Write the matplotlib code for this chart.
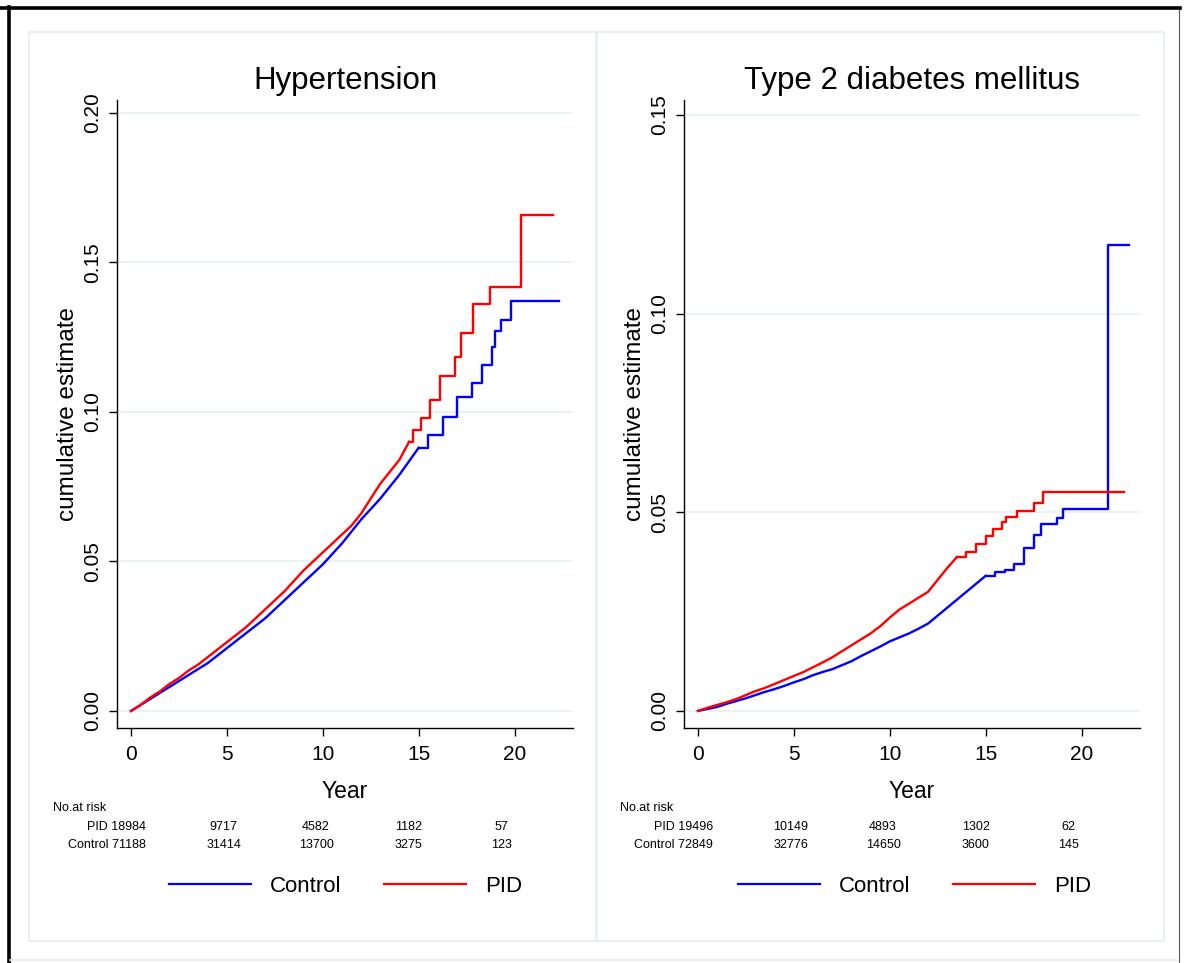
import matplotlib
matplotlib.use("Agg")
import matplotlib.pyplot as plt
from matplotlib.patches import Rectangle
from matplotlib.lines import Line2D

plt.rcParams['font.family'] = ['Liberation Sans', 'DejaVu Sans']

# ---------------- data ----------------
# Hypertension
ht_ctrl_t = [0, .5, 1, 1.5, 2, 2.5, 3, 3.5, 4, 4.5, 5, 5.5, 6, 6.5, 7, 7.5, 8, 8.5, 9, 9.5,
             10, 10.5, 11, 11.5, 12, 12.5, 13, 13.5, 14, 14.5, 15, 15.5, 16.25, 17.0, 17.8,
             18.3, 18.8, 18.96, 19.3, 19.8]
ht_ctrl_v = [0, .002, .004, .006, .008, .010, .012, .014, .016, .0185, .021, .0235, .026, .0285,
             .031, .034, .037, .040, .043, .046, .049, .0525, .056, .060, .064, .0675, .071, .075,
             .079, .0835, .088, .0923, .0984, .105, .1097, .1157, .1218, .127, .1308, .137]
ht_ctrl_end = 22.3

ht_pid_t = [0, .5, 1, 1.5, 2, 2.5, 3, 3.5, 4, 4.5, 5, 5.5, 6, 6.5, 7, 7.5, 8, 8.5, 9, 9.5,
            10, 10.5, 11, 11.5, 12, 12.5, 13, 13.5, 14, 14.5, 14.7, 15.1, 15.57, 16.1, 16.9,
            17.2, 17.86, 18.7, 20.35]
ht_pid_v = [0, .002, .0045, .0065, .009, .011, .0135, .0155, .018, .0205, .023, .0255, .028,
            .031, .034, .037, .040, .0435, .047, .050, .053, .056, .059, .062, .066, .071, .076,
            .080, .084, .090, .094, .098, .104, .112, .1185, .1264, .136, .1417, .166]
ht_pid_end = 22.0

ht_risk_pid = [18984, 9717, 4582, 1182, 57]
ht_risk_ctrl = [71188, 31414, 13700, 3275, 123]

# Type 2 diabetes mellitus
dm_ctrl_t = [0, .5, 1, 1.5, 2, 2.5, 3, 3.5, 4, 4.5, 5, 5.5, 6, 6.5, 7, 7.5, 8, 8.5, 9, 9.5,
             10, 10.5, 11, 11.5, 12, 12.5, 13, 13.5, 14, 14.5, 15, 15.5, 16, 16.5, 17, 17.5,
             17.9, 18.7, 19.04, 21.4]
dm_ctrl_v = [0, .0005, .001, .0018, .0025, .0032, .004, .0048, .0055, .0063, .0072, .008, .009,
             .0098, .0105, .0115, .0125, .0138, .015, .0162, .0175, .0185, .0195, .0207, .022,
             .024, .026, .028, .030, .032, .034, .035, .0355, .037, .041, .0442, .047, .0486,
             .0508, .1173]
dm_ctrl_end = 22.5

dm_pid_t = [0, .5, 1, 1.5, 2, 2.5, 3, 3.5, 4, 4.5, 5, 5.5, 6, 6.5, 7, 7.5, 8, 8.5, 9, 9.5,
            10, 10.5, 11, 11.5, 12, 12.5, 13, 13.5, 14, 14.5, 15, 15.4, 15.85, 16.07, 16.65,
            17.5, 18.0]
dm_pid_v = [0, .0008, .0015, .0022, .003, .004, .005, .0058, .0068, .0078, .0088, .0098, .011,
            .0122, .0135, .015, .0165, .018, .0195, .0213, .0235, .0255, .027, .0285, .030,
            .033, .036, .0387, .040, .042, .044, .0457, .0476, .0488, .0503, .0523, .0551]
dm_pid_end = 22.2

dm_risk_pid = [19496, 10149, 4893, 1302, 62]
dm_risk_ctrl = [72849, 32776, 14650, 3600, 145]

risk_times = [0, 5, 10, 15, 20]
titles = ["Hypertension", "Type 2 diabetes mellitus"]

# time up to which the dense event region is drawn as a continuous line
ht_ctrl_dense, ht_pid_dense = 15.0, 14.5
dm_ctrl_dense, dm_pid_dense = 15.0, 13.5

# ---------------- figure ----------------
W, H = 1184, 963
fig = plt.figure(figsize=(W / 100, H / 100), dpi=100)

def fx(px):
    return px / W

def fy(py):
    return 1 - py / H

# outer frame
fig.add_artist(Line2D([fx(0), fx(1180)], [fy(8.5), fy(8.5)], color='black', lw=2.6))
fig.add_artist(Line2D([fx(8.5), fx(8.5)], [fy(7), fy(963)], color='black', lw=2.6))
fig.add_artist(Line2D([fx(1178.5), fx(1178.5)], [fy(10), fy(963)], color='#555555', lw=0.8))
fig.add_artist(Line2D([fx(10), fx(1178)], [fy(960), fy(960)], color='#e6ecef', lw=1.2))

# panel borders
for x0, x1 in [(29, 596), (597, 1164)]:
    fig.add_artist(Rectangle((fx(x0), fy(941)), fx(x1 - x0), (941 - 32) / H,
                             facecolor='white', edgecolor='#e6eef0', lw=1.2, zorder=0))

panels = [
    dict(ax_px=(117, 573), ylim=(-0.0057, 0.2043), yticks=[0, .05, .10, .15, .20],
         ctrl=(ht_ctrl_t, ht_ctrl_v, ht_ctrl_end, ht_ctrl_dense),
         pid=(ht_pid_t, ht_pid_v, ht_pid_end, ht_pid_dense),
         risk=(ht_risk_pid, ht_risk_ctrl), lab_x=146, nar_x=53, leg_x=149),
    dict(ax_px=(684, 1140), ylim=(-0.0043, 0.1538), yticks=[0, .05, .10, .15],
         ctrl=(dm_ctrl_t, dm_ctrl_v, dm_ctrl_end, dm_ctrl_dense),
         pid=(dm_pid_t, dm_pid_v, dm_pid_end, dm_pid_dense),
         risk=(dm_risk_pid, dm_risk_ctrl), lab_x=713, nar_x=620, leg_x=718),
]


def draw_curve(ax, t, v, end, dense, color, label, z):
    k = max(i for i, tt in enumerate(t) if tt <= dense)
    ax.plot(t[:k + 1], v[:k + 1], color=color, lw=1.7, zorder=z, solid_joinstyle='round')
    ax.plot(list(t[k:]) + [end], list(v[k:]) + [v[-1]], drawstyle='steps-post',
            color=color, lw=1.7, zorder=z, label=label)


for i, p in enumerate(panels):
    l, r = p['ax_px']
    ax = fig.add_axes([fx(l), fy(728), fx(r - l), (728 - 100) / H])
    ax.set_xlim(-0.73, 23.05)
    ax.set_ylim(*p['ylim'])
    ax.patch.set_alpha(0)
    for s in ['top', 'right']:
        ax.spines[s].set_visible(False)
    for s in ['left', 'bottom']:
        ax.spines[s].set_linewidth(1.0)
        ax.spines[s].set_color('black')
    ax.set_yticks(p['yticks'])
    ax.set_yticklabels([f"{v:.2f}" for v in p['yticks']], rotation=90, va='center',
                       fontsize=15)
    ax.set_xticks([0, 5, 10, 15, 20])
    ax.tick_params(axis='x', labelsize=15, length=6, width=1, pad=6)
    ax.tick_params(axis='y', length=6, width=1, pad=5)
    ax.grid(axis='y', color='#e8f0f1', lw=1.2)
    ax.set_axisbelow(True)

    ct, cv, ce, cd = p['ctrl']
    pt, pv, pe, pd_ = p['pid']
    draw_curve(ax, ct, cv, ce, cd, '#0000ff', 'Control', 3)
    draw_curve(ax, pt, pv, pe, pd_, '#ff0000', 'PID', 4)

    ax.set_title(titles[i], fontsize=22.5, pad=8)
    ax.set_xlabel("Year", fontsize=16.5, labelpad=12)
    ax.set_ylabel("cumulative estimate", fontsize=17.5, labelpad=3)

    # number at risk table
    rp, rc = p['risk']
    fig.text(fx(p['nar_x']), fy(808), "No.at risk", fontsize=9, va='center', ha='left')
    fig.text(fx(p['lab_x']), fy(826.5), f"PID {rp[0]}", fontsize=9, va='center', ha='right')
    fig.text(fx(p['lab_x']), fy(845), f"Control {rc[0]}", fontsize=9, va='center', ha='right')
    for t, a, b in zip(risk_times[1:], rp[1:], rc[1:]):
        xd = t * 0.965
        ax.annotate(f"{a}", xy=(xd, 0), xycoords=('data', 'axes fraction'),
                    xytext=(0, -(826.5 - 728)), textcoords='offset pixels',
                    fontsize=9, ha='center', va='center', annotation_clip=False)
        ax.annotate(f"{b}", xy=(xd, 0), xycoords=('data', 'axes fraction'),
                    xytext=(0, -(845 - 728)), textcoords='offset pixels',
                    fontsize=9, ha='center', va='center', annotation_clip=False)

    leg = ax.legend(loc='center left', bbox_to_anchor=(fx(p['leg_x']), fy(886)),
                    bbox_transform=fig.transFigure, ncol=2, frameon=False, fontsize=16,
                    handlelength=3.7, handletextpad=0.85, columnspacing=1.9)
    for h in leg.get_lines():
        h.set_linewidth(1.6)

fig.savefig("out.png", dpi=100, facecolor='white')
